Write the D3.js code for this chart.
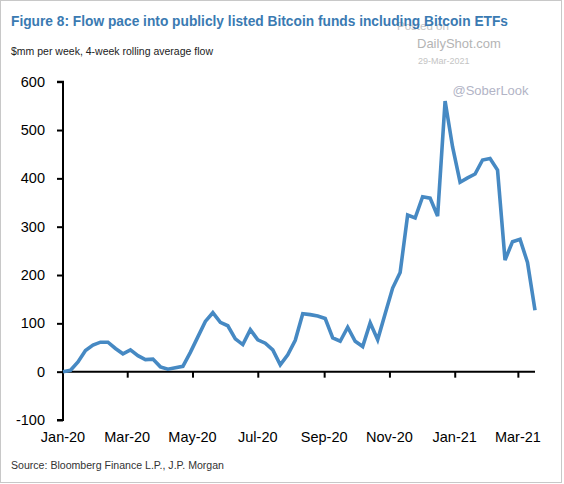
<!DOCTYPE html>
<html>
<head>
<meta charset="utf-8">
<script src="https://cdn.jsdelivr.net/npm/d3@7"></script>
<style>
  html, body { margin: 0; padding: 0; background: #fff; }
  svg { display: block; font-family: Arial, "Liberation Sans", sans-serif; }
</style>
</head>
<body>
<svg id="chart" width="564" height="484"></svg>
<script>
const dates = [
  "2020-01-01","2020-01-08","2020-01-15","2020-01-22","2020-01-29",
  "2020-02-05","2020-02-12","2020-02-19","2020-02-26",
  "2020-03-04","2020-03-11","2020-03-18","2020-03-25",
  "2020-04-01","2020-04-08","2020-04-15","2020-04-22","2020-04-29",
  "2020-05-06","2020-05-13","2020-05-20","2020-05-27",
  "2020-06-03","2020-06-10","2020-06-17","2020-06-24",
  "2020-07-01","2020-07-08","2020-07-15","2020-07-22","2020-07-29",
  "2020-08-05","2020-08-12","2020-08-19","2020-08-26",
  "2020-09-02","2020-09-09","2020-09-16","2020-09-23","2020-09-30",
  "2020-10-07","2020-10-14","2020-10-21","2020-10-28",
  "2020-11-04","2020-11-11","2020-11-18","2020-11-25",
  "2020-12-02","2020-12-09","2020-12-16","2020-12-23","2020-12-30",
  "2021-01-06","2021-01-13","2021-01-20","2021-01-27",
  "2021-02-03","2021-02-10","2021-02-17","2021-02-24",
  "2021-03-03","2021-03-10","2021-03-17"
];
const flows = [
  0, 3, 20, 44, 55,
  61, 61, 48, 37,
  45, 33, 25, 26,
  10, 5, 8, 11, 40,
  72, 104, 122, 102,
  95, 68, 56, 87,
  66, 59, 45, 14, 35,
  65, 120, 118, 115,
  110, 70, 63, 92, 63,
  52, 101, 66, 120,
  173, 205, 324, 318,
  362, 359, 322, 560, 465,
  392, 401, 409, 438,
  441, 417, 231, 269,
  274, 226, 127
];
const yTicks = [-100, 0, 100, 200, 300, 400, 500, 600];
const xTickLabels = ["Jan-20","Mar-20","May-20","Jul-20","Sep-20","Nov-20","Jan-21","Mar-21"];
const xTickDates = ["2020-01-01","2020-03-01","2020-05-01","2020-07-01","2020-09-01","2020-11-01","2021-01-01","2021-03-01"];

const titleText = "Figure 8: Flow pace into publicly listed Bitcoin funds including Bitcoin ETFs";
const subtitleText = "$mm per week, 4-week rolling average flow";
const sourceText = "Source: Bloomberg Finance L.P., J.P. Morgan";

const parse = d3.utcParse("%Y-%m-%d");
const data = dates.map((d, i) => ({ date: parse(d), value: flows[i] }));

const svg = d3.select("#chart");

// border
svg.append("rect").attr("x", 0.5).attr("y", 0.5).attr("width", 561).attr("height", 482)
  .attr("fill", "#fff").attr("stroke", "#c8c8c8").attr("stroke-width", 1);

// watermark (behind)
svg.append("text").attr("x", 397).attr("y", 30).attr("font-size", 11.5).attr("fill", "#c4c4c4").text("Posted on");
svg.append("text").attr("x", 417).attr("y", 47.5).attr("font-size", 13).attr("fill", "#b4b4b4").text("DailyShot.com");
svg.append("text").attr("x", 418).attr("y", 64).attr("font-size", 9).attr("fill", "#c4c4c4").text("29-Mar-2021");
svg.append("text").attr("x", 452.5).attr("y", 95).attr("font-size", 13).attr("fill", "#b2b4c6").text("@SoberLook");

function fitText(sel, w) {
  sel.attr("textLength", w).attr("lengthAdjust", "spacingAndGlyphs");
}

// title
const title = svg.append("text").attr("x", 11).attr("y", 26)
  .attr("font-size", 15.5).attr("font-weight", "bold").attr("fill", "#3a7ab2").text(titleText);
fitText(title, 497);

const sub = svg.append("text").attr("x", 11).attr("y", 55)
  .attr("font-size", 11).attr("fill", "#222").text(subtitleText);
fitText(sub, 202);

const src = svg.append("text").attr("x", 11).attr("y", 469)
  .attr("font-size", 10).attr("fill", "#333").text(sourceText);
fitText(src, 213);

// scales
const x = d3.scaleUtc().domain([parse(dates[0]), parse(dates[dates.length - 1])]).range([63, 535]);
const y = d3.scaleLinear().domain([-100, 600]).range([420, 81.7]);

// y axis
const yAxis = d3.axisLeft(y).tickValues(yTicks).tickSize(6).tickPadding(12).tickFormat(d => String(d));
const gy = svg.append("g").attr("transform", "translate(63,0)").call(yAxis);
gy.select(".domain").attr("stroke", "#000").attr("stroke-width", 2).attr("d", `M-6,${y(600)}H0V${y(-100)}H-6`);
gy.selectAll(".tick line").attr("stroke", "#000").attr("stroke-width", 2);
gy.selectAll(".tick text").attr("font-size", 14.5).attr("fill", "#000")
  .attr("font-family", "Arial, 'Liberation Sans', sans-serif");

// x axis line at zero with ticks
const xTickDateObjs = xTickDates.map(parse);
const xAxis = d3.axisBottom(x).tickValues(xTickDateObjs).tickSize(6).tickFormat("");
const gx = svg.append("g").attr("transform", `translate(0,${y(0)})`).call(xAxis);
gx.select(".domain").attr("stroke", "#000").attr("stroke-width", 2).attr("d", `M63,0H535`);
gx.selectAll(".tick line").attr("stroke", "#000").attr("stroke-width", 2);
gx.selectAll(".tick").filter((d, i) => i === 0).select("line").remove();

// x labels at bottom
svg.append("g").selectAll("text").data(xTickDateObjs).join("text")
  .attr("x", d => x(d))
  .attr("y", 442)
  .attr("text-anchor", "middle")
  .attr("font-size", 14.5)
  .attr("fill", "#000")
  .text((d, i) => xTickLabels[i]);

// line
const line = d3.line().x(d => x(d.date)).y(d => y(d.value));
svg.append("path").datum(data).attr("d", line)
  .attr("fill", "none").attr("stroke", "#4689c3").attr("stroke-width", 3.6)
  .attr("stroke-linejoin", "miter").attr("stroke-linecap", "butt");
</script>
</body>
</html>
